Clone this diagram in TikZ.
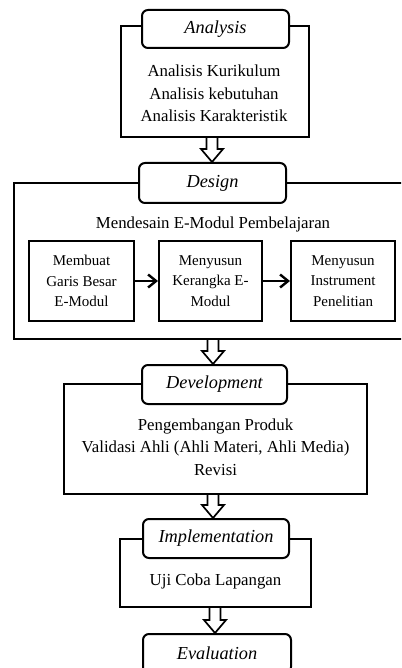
\documentclass[tikz,border=0pt]{standalone}
\usepackage{fontspec}
\setmainfont{Liberation Serif}
\usetikzlibrary{arrows.meta,calc}
\tikzset{
  box/.style={draw, line width=2pt, inner sep=0pt, fill=white},
  titlebox/.style={box, rounded corners=6pt, font=\fontsize{18.3}{22}\selectfont\itshape},
  body/.style={align=center, inner sep=0pt, font=\fontsize{16.8}{22.4}\selectfont},
  small/.style={box, align=center, font=\fontsize{15}{20.5}\selectfont},
  hollow/.style={line width=1.7pt, line join=miter},
  flow/.style={line width=2.4pt, -{Straight Barb[length=8pt,width=13pt,line width=2.4pt]}}
}
\newcommand\hollowarrow[3]{%
  \draw[hollow] let \p1=(#1.south), \p2=(#2.north), \p3=(#3,0) in
    (\x3-5.5pt,\y1) -- (\x3-5.5pt,\y2+13pt) -- (\x3-11pt,\y2+13pt) -- (\x3,\y2)
    -- (\x3+11pt,\y2+13pt) -- (\x3+5.5pt,\y2+13pt) -- (\x3+5.5pt,\y1);}
\begin{document}
\begin{tikzpicture}[x=1pt,y=-1pt]
\useasboundingbox (0,0) rectangle (401,668);
\clip (0,0) rectangle (401,668);
% Analysis
\node[box, minimum width=188pt, minimum height=111pt] (aout) at (215,81.5) {};
\node[titlebox, minimum width=147pt, minimum height=38pt] (atitle) at (215.5,29) {Analysis};
\node[body] (atext) at (214,93.5) {Analisis Kurikulum\\Analisis kebutuhan\\Analisis Karakteristik};
% Design
\node[box, minimum width=406pt, minimum height=156pt] (dout) at (217,261) {};
\node[titlebox, minimum width=147pt, minimum height=40pt] (dtitle) at (212.5,183) {Design};
\node[body] (dtext) at (213,224) {Mendesain E-Modul Pembelajaran};
\node[small, minimum width=105pt, minimum height=80pt] (s1) at (81.5,281) {Membuat\\Garis Besar\\E-Modul};
\node[small, minimum width=103pt, minimum height=80pt] (s2) at (210.5,281) {Menyusun\\Kerangka E-\\Modul};
\node[small, minimum width=104pt, minimum height=80pt] (s3) at (343,281) {Menyusun\\Instrument\\Penelitian};
\draw[flow] (s1) -- (s2);
\draw[flow] (s2) -- (s3);
% Development
\node[box, minimum width=303pt, minimum height=110pt] (vout) at (215.5,439) {};
\node[titlebox, minimum width=145pt, minimum height=39pt] (vtitle) at (214.5,384.5) {Development};
\node[body] (vtext) at (215.5,447) {Pengembangan Produk\\Validasi Ahli (Ahli Materi, Ahli Media)\\Revisi};
% Implementation
\node[box, minimum width=191pt, minimum height=68pt] (iout) at (215.5,573) {};
\node[titlebox, minimum width=146pt, minimum height=39pt] (ititle) at (216,538.5) {Implementation};
\node[body] (itext) at (215.5,581) {Uji Coba Lapangan};
% Evaluation
\node[titlebox, minimum width=148pt, minimum height=39pt] (etitle) at (217,653.5) {Evaluation};
% hollow arrows
\hollowarrow{aout}{dtitle}{212}
\hollowarrow{dout}{vtitle}{213}
\hollowarrow{vout}{ititle}{213}
\hollowarrow{iout}{etitle}{215}
\end{tikzpicture}
\end{document}
